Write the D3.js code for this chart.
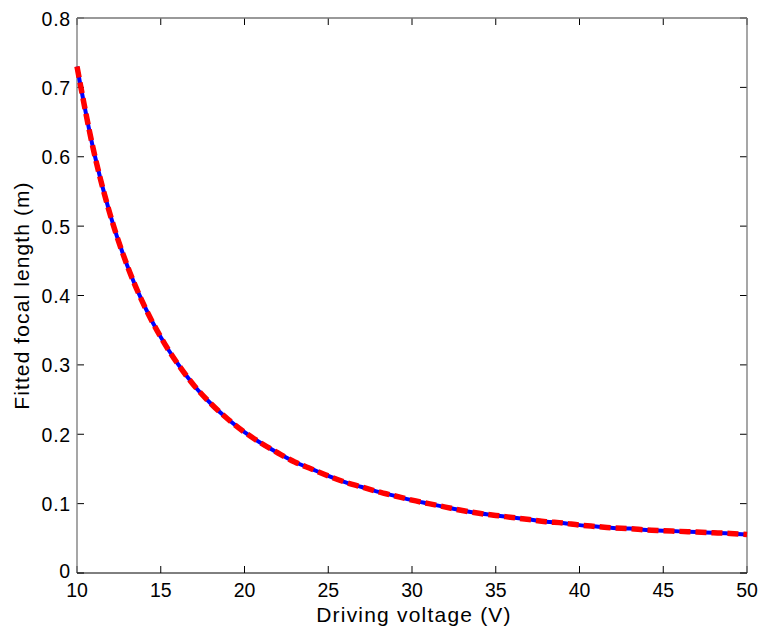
<!DOCTYPE html>
<html>
<head>
<meta charset="utf-8">
<script src="https://cdn.jsdelivr.net/npm/d3@7"></script>
<style>
  html, body { margin: 0; padding: 0; background: #fff; }
  svg { display: block; }
  text { font-family: Arial, "Liberation Sans", sans-serif; fill: #000; }
</style>
</head>
<body>
<svg id="chart" width="761" height="630"></svg>
<script>
// ---- data ----
const voltages = [10,11,12,13,14,15,16,17,18,19,20,21,22,23,24,25,26,27,28,29,30,
                  31,32,33,34,35,36,37,38,39,40,41,42,43,44,45,46,47,48,49,50];
const measuredFocal = [0.730,0.608,0.515,0.443,0.386,0.340,0.302,0.270,0.244,0.222,0.203,
                       0.187,0.173,0.160,0.150,0.140,0.131,0.124,0.117,0.111,0.105,
                       0.100,0.095,0.090,0.086,0.083,0.080,0.077,0.074,0.072,0.069,
                       0.067,0.065,0.064,0.062,0.061,0.060,0.059,0.058,0.057,0.0555];
const fittedFocal   = [0.730,0.608,0.515,0.443,0.386,0.340,0.302,0.270,0.244,0.222,0.203,
                       0.187,0.173,0.160,0.150,0.140,0.131,0.124,0.117,0.111,0.105,
                       0.100,0.095,0.090,0.086,0.083,0.080,0.077,0.074,0.072,0.069,
                       0.067,0.065,0.064,0.062,0.061,0.060,0.059,0.058,0.057,0.0555];
const xTicks = [10,15,20,25,30,35,40,45,50];
const yTicks = [0,0.1,0.2,0.3,0.4,0.5,0.6,0.7,0.8];
const xLabel = "Driving voltage (V)";
const yLabel = "Fitted focal length (m)";

// ---- layout ----
const L = 77, R = 747, T = 18, B = 573;
const svg = d3.select("#chart");
const x = d3.scaleLinear().domain([10, 50]).range([L, R]);
const y = d3.scaleLinear().domain([0, 0.8]).range([B, T]);

// tick marks (inward, all four sides)
const tickLen = 7;
const g = svg.append("g");
xTicks.forEach(v => {
  g.append("line").attr("x1", x(v)).attr("x2", x(v)).attr("y1", B).attr("y2", B - tickLen)
    .attr("stroke", "#000").attr("stroke-width", 1);
  g.append("line").attr("x1", x(v)).attr("x2", x(v)).attr("y1", T).attr("y2", T + tickLen)
    .attr("stroke", "#000").attr("stroke-width", 1);
});
yTicks.forEach(v => {
  g.append("line").attr("x1", L).attr("x2", L + tickLen).attr("y1", y(v)).attr("y2", y(v))
    .attr("stroke", "#000").attr("stroke-width", 1);
  g.append("line").attr("x1", R).attr("x2", R - tickLen).attr("y1", y(v)).attr("y2", y(v))
    .attr("stroke", "#000").attr("stroke-width", 1);
});

// box
svg.append("line").attr("x1", L).attr("x2", R).attr("y1", T).attr("y2", T).attr("stroke", "#777").attr("stroke-width", 1.3);
svg.append("line").attr("x1", R).attr("x2", R).attr("y1", T).attr("y2", B).attr("stroke", "#777").attr("stroke-width", 1.3);
svg.append("line").attr("x1", L).attr("x2", L).attr("y1", T).attr("y2", B).attr("stroke", "#777").attr("stroke-width", 1.3);
svg.append("line").attr("x1", L).attr("x2", R).attr("y1", B).attr("y2", B).attr("stroke", "#000").attr("stroke-width", 1);

// tick labels
svg.append("g").selectAll("text").data(xTicks).join("text")
  .attr("x", d => x(d)).attr("y", 597)
  .attr("text-anchor", "middle").attr("font-size", 19.5).text(d => d);
svg.append("g").selectAll("text").data(yTicks).join("text")
  .attr("x", 71).attr("y", d => d === 0 ? y(d) + 5 : y(d) + 7.5)
  .attr("text-anchor", "end").attr("font-size", 19.5).attr("letter-spacing", 0.8)
  .text(d => d === 0 ? "0" : d.toString());

// axis labels
svg.append("text").attr("x", (L + R) / 2 + 2).attr("y", 622)
  .attr("text-anchor", "middle").attr("font-size", 21).attr("letter-spacing", 1.2).text(xLabel);
svg.append("text").attr("transform", `translate(29,${(T + B) / 2}) rotate(-90)`)
  .attr("text-anchor", "middle").attr("font-size", 21).attr("letter-spacing", 1.1).text(yLabel);

// lines
const line = d3.line().x((d, i) => x(voltages[i])).y(d => y(d)).curve(d3.curveMonotoneX);
svg.append("path").datum(measuredFocal).attr("d", line)
  .attr("fill", "none").attr("stroke", "#0000ff").attr("stroke-width", 4);
svg.append("path").datum(fittedFocal).attr("d", line)
  .attr("fill", "none").attr("stroke", "#ff0000").attr("stroke-width", 5.5)
  .attr("stroke-dasharray", "11,5");
</script>
</body>
</html>
